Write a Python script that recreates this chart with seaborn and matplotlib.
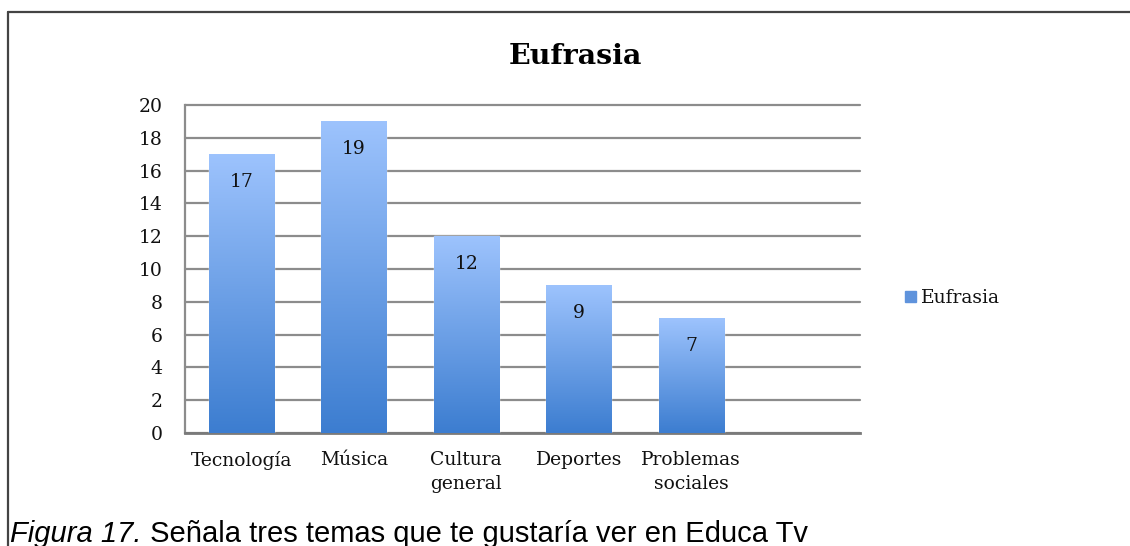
import numpy as np
import pandas as pd
import seaborn as sns
import matplotlib.pyplot as plt
from matplotlib.colors import LinearSegmentedColormap

categories = ['Tecnología', 'Música', 'Cultura\ngeneral', 'Deportes', 'Problemas\nsociales']
values = [17, 19, 12, 9, 7]
series_name = 'Eufrasia'
yticks = list(range(0, 21, 2))
caption_italic = 'Figura 17.'
caption_rest = ' Señala tres temas que te gustaría ver en Educa Tv'

sns.set_style('white')
plt.rcParams['font.family'] = ['DejaVu Serif']
plt.rcParams['text.color'] = '#111111'
plt.rcParams['xtick.color'] = '#111111'
plt.rcParams['ytick.color'] = '#111111'

df = pd.DataFrame({'tema': categories, 'n': values})

fig = plt.figure(figsize=(11.3, 5.46), dpi=100)
ax = fig.add_axes([185 / 1130, 1 - 433 / 546, 675 / 1130, 328 / 546])

sns.barplot(data=df, x='tema', y='n', color='#6a9ee6', width=0.58, ax=ax,
            saturation=1, zorder=3)

# vertical gradient on each bar
grad = LinearSegmentedColormap.from_list('g', ['#3c7dd0', '#9dc3fd'])
ramp = np.linspace(0, 1, 256).reshape(-1, 1)
for bar in ax.patches:
    x0, y0 = bar.get_x(), bar.get_y()
    w, h = bar.get_width(), bar.get_height()
    im = ax.imshow(ramp, cmap=grad, origin='lower', aspect='auto',
                   extent=(x0, x0 + w, y0, y0 + h), zorder=4)
    im.set_clip_path(bar)
    ax.text(x0 + w / 2, y0 + h - 1.7, f'{int(h)}', ha='center', va='center',
            fontsize=13.5, color='#111111', zorder=5)

ax.set_xlim(-0.5, 5.5)
ax.set_ylim(0, 20)
ax.set_yticks(yticks)
ax.set_yticklabels([str(t) for t in yticks], fontsize=13.5)
ax.set_xticks(range(len(categories)))
ax.set_xticklabels(categories, fontsize=13.5, linespacing=1.45, va='top')
ax.tick_params(axis='x', length=0, pad=13)
ax.tick_params(axis='y', length=0, pad=16)
ax.set_xlabel('')
ax.set_ylabel('')
ax.grid(axis='y', color='#8c8c8c', linewidth=1.6, zorder=0)
for gl in ax.get_ygridlines():
    gl.set_clip_on(False)
ax.set_axisbelow(True)
for s in ['top', 'right']:
    ax.spines[s].set_visible(False)
ax.spines['left'].set_color('#8c8c8c')
ax.spines['left'].set_linewidth(1.6)
ax.spines['bottom'].set_color('#7a7a7a')
ax.spines['bottom'].set_linewidth(2)

fig.text(575 / 1130, 1 - 56 / 546, series_name, ha='center', va='center',
         fontsize=20.5, fontweight='bold', color='black')

# legend
fig.patches.append(plt.Rectangle((905 / 1130, 1 - 302 / 546), 11 / 1130, 11 / 546,
                                 transform=fig.transFigure, color='#5f93dc'))
fig.text(921 / 1130, 1 - 298 / 546, series_name, ha='left', va='center', fontsize=13.5)

# outer frame
fig.add_artist(plt.Line2D([8 / 1130, 8 / 1130], [0, 1 - 12 / 546], color='#444444', lw=1.6))
fig.add_artist(plt.Line2D([8 / 1130, 1], [1 - 12 / 546, 1 - 12 / 546], color='#444444', lw=1.6))

# caption (cut at the bottom edge, as in the source page)
t1 = fig.text(10 / 1130, 1 - 542 / 546, caption_italic, ha='left', va='baseline',
              fontsize=21, style='italic', family='Liberation Sans', color='black')
fig.canvas.draw()
bb = t1.get_window_extent()
fig.text(bb.x1 / 1130, 1 - 542 / 546, caption_rest, ha='left', va='baseline',
         fontsize=21, family='Liberation Sans', color='black')

fig.savefig('out.png', dpi=100)
